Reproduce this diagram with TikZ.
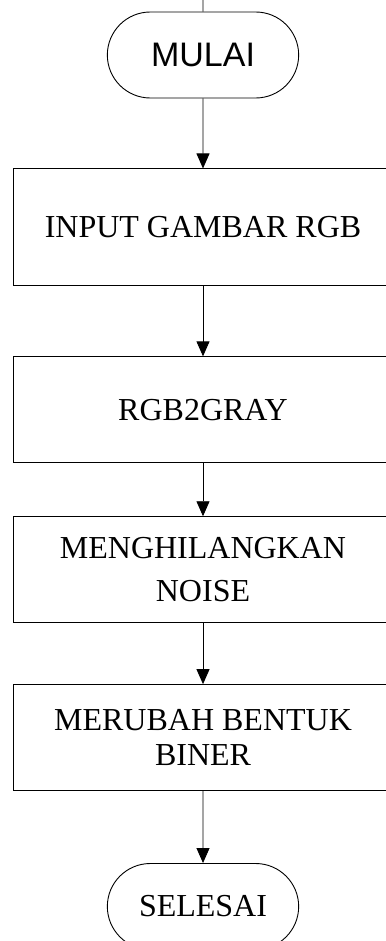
\documentclass[tikz,border=0pt]{standalone}
\usepackage{fontspec}
\setmainfont{Liberation Serif}
\newfontfamily\arialfont{Liberation Sans}
\usetikzlibrary{positioning,shapes.misc,arrows.meta}

\begin{document}
\begin{tikzpicture}[x=1pt, y=1pt, line width=0.9pt, >={Triangle[width=13pt,length=15pt]},
  term/.style = {draw, rounded rectangle, minimum width=198pt, minimum height=86pt, font=\fontsize{32}{36}\selectfont},
  proc/.style = {draw, rectangle, minimum width=380pt, minimum height=106pt, align=center, font=\fontsize{32}{35}\selectfont}]
  \useasboundingbox (0,0) rectangle (385,-941);
  \coordinate (atas) at (203,0);
  \node[term, font=\arialfont\fontsize{34}{36}\selectfont] (mulai) at (203,-55) {MULAI};
  \node[proc, minimum height=117pt] (input) [below=70pt of mulai] {INPUT GAMBAR RGB};
  \node[proc] (gray) [below=70pt of input] {RGB2GRAY};
  \node[proc] (noise) [below=53pt of gray] {MENGHILANGKAN\\[8pt]NOISE};
  \node[proc] (biner) [below=61pt of noise] {MERUBAH BENTUK\\BINER};
  \node[term] (selesai) [below=72pt of biner] {SELESAI};
  \draw (atas) -- (mulai);
  \draw[->] (mulai) -- (input);
  \draw[->] (input) -- (gray);
  \draw[->] (gray) -- (noise);
  \draw[->] (noise) -- (biner);
  \draw[->] (biner) -- (selesai);
\end{tikzpicture}
\end{document}
